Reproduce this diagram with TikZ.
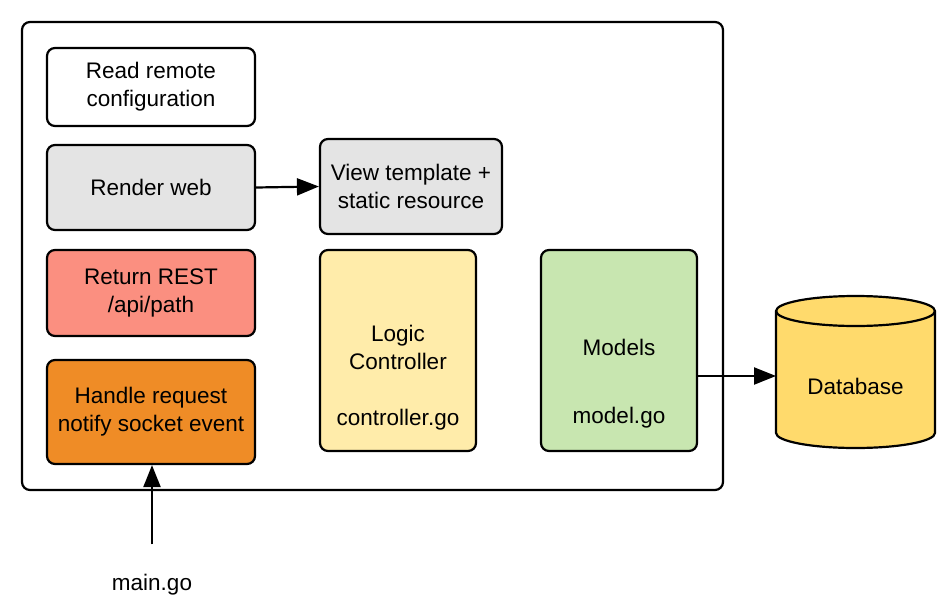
\documentclass[tikz,border=0pt]{standalone}
\usepackage{fontspec}
\setmainfont{Liberation Sans}
\usetikzlibrary{arrows.meta}
\definecolor{boxgray}{RGB}{228,228,228}
\definecolor{boxred}{RGB}{251,143,128}
\definecolor{boxorange}{RGB}{239,140,38}
\definecolor{boxyellow}{RGB}{255,236,170}
\definecolor{boxgreen}{RGB}{200,230,176}
\definecolor{dbyellow}{RGB}{255,218,108}
\begin{document}
\begin{tikzpicture}[x=1pt,y=-1pt,
		font=\fontsize{22.5}{28}\selectfont,
		box/.style={draw, line width=2.2pt, rounded corners=8pt, align=center, inner sep=0pt},
		txt/.style={align=center, inner sep=2pt},
		arr/.style={line width=2.2pt, -{Triangle[length=22pt,width=17pt]}}]
	\useasboundingbox (0,0) rectangle (947,602);
	\draw [line width=2.2pt, rounded corners=8pt] (22,22) rectangle (723,490);

	% left column
	\node [box, fill=white, minimum width=208, minimum height=78] (rrc) at (151,87) {Read remote\\configuration};
	\node [box, fill=boxgray, minimum width=208, minimum height=85] (rw) at (151,187.5) {Render web};
	\node [box, fill=boxred, minimum width=208, minimum height=86] (rest) at (151,293) {Return REST\\/api/path};
	\node [box, fill=boxorange, minimum width=208, minimum height=104] (hr) at (151,412) {Handle request\\notify socket event};

	\node [box, fill=boxgray, minimum width=182, minimum height=95] (vt) at (411,186.5) {View template +\\static resource};
	\node [box, fill=boxyellow, minimum width=156, minimum height=201] (ctl) at (398,350.5) {};
	\node [txt] (ctltxt) at (398,378) {Logic\\Controller\\[28pt]controller.go};
	\node [box, fill=boxgreen, minimum width=156, minimum height=201] (mdl) at (619,350.5) {};
	\node [txt] (mdltxt) at (619,384) {Models\\[40pt]model.go};

	% database
	\draw [line width=2.2pt, fill=dbyellow] (776,311) -- (776,433) arc [start angle=180, end angle=0, x radius=79.5, y radius=15]
		-- (935,311) arc [start angle=0, end angle=-180, x radius=79.5, y radius=15] -- cycle;
	\draw [line width=2.2pt] (776,311) arc [start angle=180, end angle=0, x radius=79.5, y radius=15];
	\node [txt] (db) at (855.5,386) {Database};
	\coordinate (dbin) at (776,376);

	\node [txt] (main) at (152,585) {main.go};

	\draw [arr] (rw.east) -- (vt.west);
	\draw [arr] (dbin -| mdl.east) -- (dbin);
	\draw [arr, shorten <=28pt] (main.north) -- (main.north |- hr.south);
\end{tikzpicture}
\end{document}
